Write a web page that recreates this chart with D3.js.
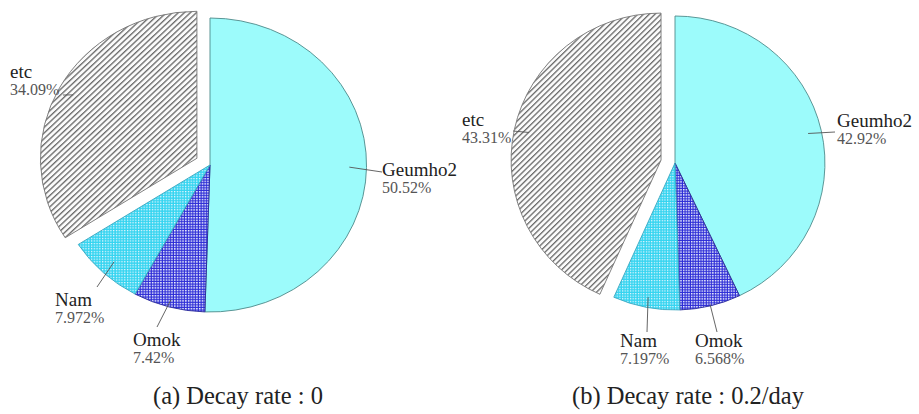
<!DOCTYPE html>
<html>
<head>
<meta charset="utf-8">
<script src="https://cdn.jsdelivr.net/npm/d3@7/dist/d3.min.js"></script>
<style>
  html, body { margin: 0; padding: 0; background: #fff; }
  svg { display: block; }
  svg text { font-family: "Liberation Serif", "Times New Roman", serif; }
</style>
</head>
<body>
<svg id="chart" width="919" height="414"></svg>
<script>
// Share of each source (percent), clockwise from 12 o'clock
const categories = ["Geumho2", "Omok", "Nam", "etc"];
const sharesNoDecay = [50.52, 7.42, 7.972, 34.09];
const sharesDecay = [42.92, 6.568, 7.197, 43.31];
const valueLabelsNoDecay = ["50.52%", "7.42%", "7.972%", "34.09%"];
const valueLabelsDecay = ["42.92%", "6.568%", "7.197%", "43.31%"];
const panelTitles = ["(a) Decay rate : 0", "(b) Decay rate : 0.2/day"];

// Panel layout: centre, radius, horizontal stretch, title position
const panels = [
  { cx: 210, cy: 165, r: 147, sx: 1.065, titleX: 238, titleY: 404,
    values: sharesNoDecay, texts: valueLabelsNoDecay, title: panelTitles[0],
    // label anchor (top-left of name line) and leader endpoint, relative to centre
    labels: [
      { x: 172, y: -3,  lx: 172, ly: 7,   inner: 0.89 },
      { x: -77, y: 167, lx: -53, ly: 162, inner: 0.95 },
      { x: -155, y: 127, lx: -113, ly: 122, inner: 0.9 },
      { x: -200, y: -101, lx: -147, ly: -70, inner: 0.9 }
    ] },
  { cx: 675, cy: 163, r: 147, sx: 1.02, titleX: 688, titleY: 404,
    values: sharesDecay, texts: valueLabelsDecay, title: panelTitles[1],
    labels: [
      { x: 162, y: -50, lx: 160, ly: -31, inner: 0.91 },
      { x: 20, y: 170,  lx: 42, ly: 169, inner: 0.99 },
      { x: -55, y: 170, lx: -28, ly: 169, inner: 0.93 },
      { x: -213, y: -51, lx: -162, ly: -32, inner: 0.9 }
    ] }
];

const explodeIndex = 3;      // "etc" is pulled out of the pie
const explodeDist = 14;

const svg = d3.select("#chart");
const defs = svg.append("defs");

// Hatching and dotted fills
const hatch = defs.append("pattern")
  .attr("id", "hatch").attr("patternUnits", "userSpaceOnUse")
  .attr("width", 4).attr("height", 4)
  .attr("patternTransform", "rotate(45)");
hatch.append("rect").attr("width", 4).attr("height", 4).attr("fill", "#fbfbfb");
hatch.append("rect").attr("x", 0).attr("width", 1.3).attr("height", 4).attr("fill", "#6c6c6c");

function dotted(id, base, dot) {
  const p = defs.append("pattern")
    .attr("id", id).attr("patternUnits", "userSpaceOnUse")
    .attr("width", 2.6).attr("height", 2.6);
  p.append("rect").attr("width", 2.6).attr("height", 2.6).attr("fill", base);
  p.append("rect").attr("width", dot).attr("height", dot).attr("fill", "#f6f9ff");
}
dotted("dotCyan", "#34d4f0", 1.2);
dotted("dotBlue", "#2c2cd6", 1.45);

const fills = ["#9cfbfb", "url(#dotBlue)", "url(#dotCyan)", "url(#hatch)"];
const strokes = ["#4f8c8c", "#2a2a9a", "#3aa8c0", "#777"];

const pie = d3.pie().sort(null).value(d => d);

panels.forEach(panel => {
  const arcs = pie(panel.values);
  const arc = d3.arc().innerRadius(0).outerRadius(panel.r);
  const g = svg.append("g").attr("transform", `translate(${panel.cx},${panel.cy})`);

  const mid = d => (d.startAngle + d.endAngle) / 2;
  const offset = (d, i) => {
    const k = i === explodeIndex ? explodeDist : 0;
    return [Math.sin(mid(d)) * k, -Math.cos(mid(d)) * k];
  };

  // slices, stretched horizontally
  const slices = g.append("g").attr("transform", `scale(${panel.sx},1)`);
  slices.selectAll("path").data(arcs).join("path")
    .attr("transform", (d, i) => { const o = offset(d, i); return `translate(${o[0]},${o[1]})`; })
    .attr("d", arc)
    .attr("fill", (d, i) => fills[i])
    .attr("stroke", (d, i) => strokes[i])
    .attr("stroke-width", 0.9);

  // leader lines from inside each slice to its label
  g.selectAll("line.leader").data(arcs).join("line")
    .attr("class", "leader")
    .attr("x1", (d, i) => (Math.sin(mid(d)) * panel.r * panel.labels[i].inner + offset(d, i)[0]) * panel.sx)
    .attr("y1", (d, i) => -Math.cos(mid(d)) * panel.r * panel.labels[i].inner + offset(d, i)[1])
    .attr("x2", (d, i) => panel.labels[i].lx)
    .attr("y2", (d, i) => panel.labels[i].ly)
    .attr("stroke", "#555")
    .attr("stroke-width", 0.9);

  // category names and percentages
  const lab = g.selectAll("g.lab").data(arcs).join("g")
    .attr("class", "lab")
    .attr("transform", (d, i) => `translate(${panel.labels[i].x},${panel.labels[i].y})`);
  lab.append("text")
    .attr("y", 14)
    .attr("font-size", 19)
    .attr("fill", "#222")
    .text((d, i) => categories[i]);
  lab.append("text")
    .attr("y", 31)
    .attr("font-size", 16)
    .attr("fill", "#555")
    .text((d, i) => panel.texts[i]);

  svg.append("text")
    .attr("x", panel.titleX).attr("y", panel.titleY)
    .attr("text-anchor", "middle")
    .attr("font-size", 24.5)
    .attr("fill", "#222")
    .text(panel.title);
});
</script>
</body>
</html>
